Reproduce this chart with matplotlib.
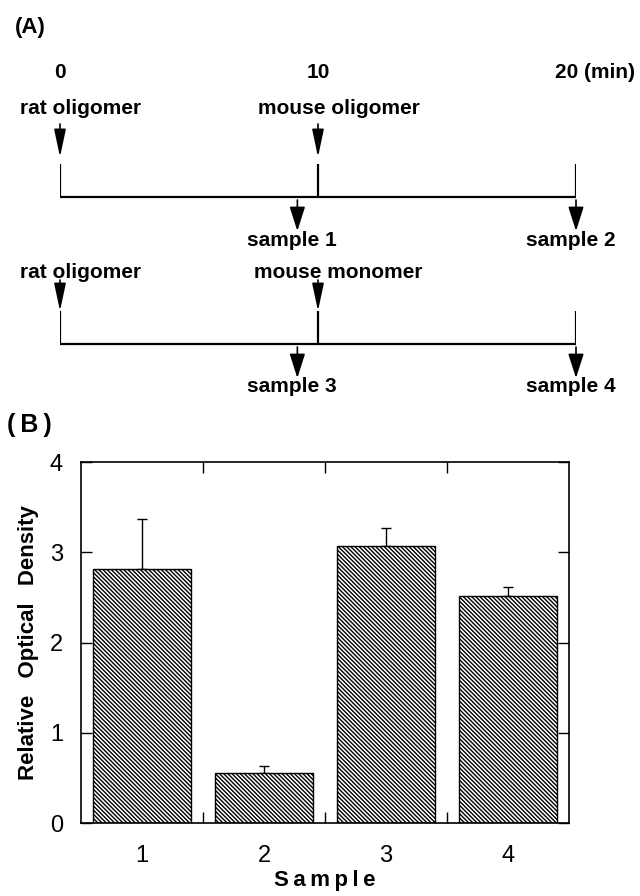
import numpy as np
import matplotlib.pyplot as plt

plt.rcParams['font.family'] = ['Liberation Sans', 'DejaVu Sans']
plt.rcParams['hatch.linewidth'] = 1.0

# (A) protocol: times in minutes
time_marks = [0, 10, 20]
time_labels = ['0', '10', '20 (min)']
add_times = [0, 10]
added = [['rat oligomer', 'mouse oligomer'],
         ['rat oligomer', 'mouse monomer']]
sample_times = [9.2, 20]
sample_names = [['sample 1', 'sample 2'],
                ['sample 3', 'sample 4']]

# (B) relative optical density
samples = [1, 2, 3, 4]
density = [2.81, 0.55, 3.07, 2.51]
density_err = [0.56, 0.08, 0.20, 0.11]

fig = plt.figure(figsize=(6.4, 8.96), dpi=100)

# ---- panel A, y in pixels from the top of the figure
axA = fig.add_axes([60 / 640, 1 - 440 / 896, 516 / 640, 440 / 896])
axA.set_xlim(0, 20)
axA.set_ylim(440, 0)
axA.axis('off')

fig.text(15 / 640, 1 - 27 / 896, '(A)', fontsize=16, fontweight='bold',
         ha='left', va='center')

for t, lab in zip(time_marks, time_labels):
    if lab.endswith('(min)'):
        axA.text(t - 0.8, 73, lab, fontsize=15, fontweight='bold', ha='left', va='center')
    else:
        axA.text(t, 73, lab, fontsize=15, fontweight='bold', ha='center', va='center')

row_line = [197, 344]
row_label = [108, 273]
row_arrow = [(124, 157), (280, 311)]
row_tick = [164, 311]

for r in range(2):
    yl = row_line[r]
    axA.plot([time_marks[0], time_marks[-1]], [yl, yl], color='k', lw=1.6,
             solid_capstyle='butt')
    for t in time_marks:
        axA.plot([t, t], [row_tick[r], yl], color='k', lw=1.6, solid_capstyle='butt')
    for t, name in zip(add_times, added[r]):
        axA.text(t + 0.8, row_label[r], name, fontsize=15, fontweight='bold',
                 ha='center', va='center')
        axA.annotate('', xy=(t, row_arrow[r][1]), xytext=(t, row_arrow[r][0]),
                     arrowprops=dict(arrowstyle='-|>,head_length=0.85,head_width=0.18',
                                     color='k', lw=1.2, mutation_scale=20,
                                     shrinkA=0, shrinkB=0))
    for t, name in zip(sample_times, sample_names[r]):
        axA.annotate('', xy=(t, yl + 34), xytext=(t, yl + 3),
                     arrowprops=dict(arrowstyle='-|>,head_length=0.75,head_width=0.24',
                                     color='k', lw=1.2, mutation_scale=20,
                                     shrinkA=0, shrinkB=0))
        axA.text(t - 0.2, yl + 43, name, fontsize=15, fontweight='bold',
                 ha='center', va='center')

# ---- panel B
fig.text(7 / 640, 1 - 425 / 896, '(\u2009B\u2009)', fontsize=18, fontweight='bold',
         ha='left', va='center')

axB = fig.add_axes([81 / 640, 1 - 823 / 896, 488 / 640, 361 / 896])
axB.bar(samples, density, width=0.8, color='white', edgecolor='k',
        hatch='\\' * 8, linewidth=1.0, zorder=2)
axB.errorbar(samples, density, yerr=[np.zeros(len(samples)), density_err],
             fmt='none', ecolor='k', elinewidth=1.0, capsize=3.6, capthick=1.0, zorder=1)

axB.set_xlim(0.5, 4.5)
axB.set_ylim(0, 4)
axB.set_xticks(samples)
axB.set_xticks([1.5, 2.5, 3.5], minor=True)
axB.set_yticks([0, 1, 2, 3, 4])
axB.tick_params(axis='x', which='major', length=0, labelsize=17, pad=16)
axB.tick_params(axis='x', which='minor', direction='in', length=8, width=1.0,
                top=True, bottom=True)
axB.tick_params(axis='y', direction='in', length=8, width=1.0, left=True, right=True,
                labelsize=17, pad=13)
for s in axB.spines.values():
    s.set_linewidth(1.2)

axB.set_xlabel('S\u2009a\u2009m\u2009p\u2009l\u2009e', fontsize=16, fontweight='bold', labelpad=2)
axB.set_ylabel('Relative\u2002 Optical\u2002 Density', fontsize=16, fontweight='bold', labelpad=8)

fig.savefig('out.png', dpi=100)
